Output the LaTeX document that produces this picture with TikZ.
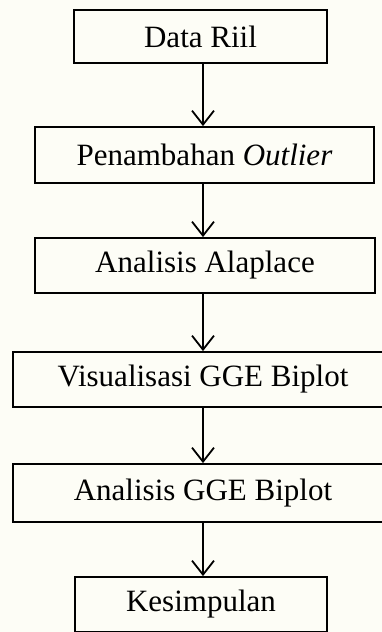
\documentclass[tikz,border=0pt]{standalone}
\usepackage{fontspec}
\setmainfont{Liberation Serif}
\usetikzlibrary{arrows.meta}
\definecolor{bgcream}{RGB}{253,253,246}
\begin{document}
\begin{tikzpicture}[x=1pt,y=-1pt,
  flowbox/.style={draw=black, line width=1.8pt, rectangle, inner sep=0pt,
    font=\fontsize{31}{37}\selectfont},
  arr/.style={-{Straight Barb[length=14pt,width=22pt,line width=1.8pt]}, line width=1.8pt}]
\clip (0,0) rectangle (382,632);
\fill[bgcream] (0,0) rectangle (382,632);
\node[flowbox, minimum width=253pt, minimum height=53pt] (b1) at (200.5,36.5) {Data Riil};
\node[flowbox, minimum width=339pt, minimum height=56pt] (b2) at (204.5,155) {Penambahan \textit{Outlier}};
\node[flowbox, minimum width=340pt, minimum height=55pt] (b3) at (205,265.5) {Analisis Alaplace};
\node[flowbox, minimum width=380pt, minimum height=55pt] (b4) at (203,379.5) {Visualisasi GGE Biplot};
\node[flowbox, minimum width=380pt, minimum height=58pt] (b5) at (203,493) {Analisis GGE Biplot};
\node[flowbox, minimum width=252pt, minimum height=55pt] (b6) at (201,604.5) {Kesimpulan};
\coordinate (ax) at (203,0);
\draw[arr] (b1.south -| ax) -- (b2.north -| ax);
\draw[arr] (b2.south -| ax) -- (b3.north -| ax);
\draw[arr] (b3.south -| ax) -- (b4.north -| ax);
\draw[arr] (b4.south -| ax) -- (b5.north -| ax);
\draw[arr] (b5.south -| ax) -- (b6.north -| ax);
\end{tikzpicture}
\end{document}
